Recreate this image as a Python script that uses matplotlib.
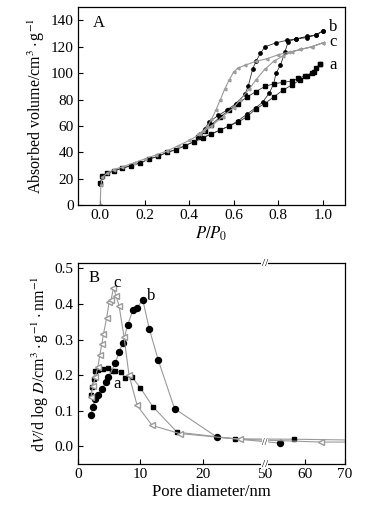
import numpy as np
import matplotlib
matplotlib.use("Agg")
import matplotlib.pyplot as plt

plt.rcParams["font.family"] = "serif"
plt.rcParams["font.serif"] = ["Liberation Serif", "DejaVu Serif"]
plt.rcParams["mathtext.fontset"] = "stix"

# ---- panel A: N2 isotherms (adsorption then desorption) ----
a_ads_p = [0.0, 0.01, 0.03, 0.06, 0.1, 0.14, 0.18, 0.22, 0.26, 0.3, 0.34, 0.38, 0.42, 0.46,
           0.5, 0.54, 0.58, 0.62, 0.66, 0.7, 0.74, 0.78, 0.82, 0.86, 0.9, 0.93, 0.96, 0.99]
a_ads_v = [17, 22, 24, 26, 28, 30, 32, 35, 37, 40, 42, 45, 48, 51,
           54, 57, 60, 63, 67, 73, 77, 82, 87, 91, 95, 98, 101, 107]
a_des_p = [0.99, 0.97, 0.95, 0.92, 0.89, 0.86, 0.82, 0.78, 0.74, 0.7, 0.66, 0.62, 0.58, 0.54, 0.5, 0.47, 0.44]
a_des_v = [107, 104, 100, 98, 96, 94, 93, 92, 90, 86, 82, 77, 72, 67, 61, 56, 52]

b_ads_p = [0.0, 0.01, 0.03, 0.06, 0.1, 0.14, 0.18, 0.22, 0.26, 0.3, 0.34, 0.38, 0.42, 0.46,
           0.5, 0.54, 0.58, 0.62, 0.66, 0.7, 0.73, 0.76, 0.78, 0.79, 0.81, 0.83, 0.845, 0.88, 0.93, 0.97, 1.0]
b_ads_v = [16, 21, 24, 26, 28, 30, 32, 35, 37, 40, 42, 45, 48, 51,
           54, 57, 60, 64, 69, 74, 78, 85, 92, 100, 106, 116, 124, 126, 127, 129, 132]
b_des_p = [1.0, 0.97, 0.93, 0.88, 0.84, 0.79, 0.74, 0.72, 0.7, 0.685, 0.665, 0.65, 0.61, 0.57, 0.53, 0.49, 0.47, 0.45]
b_des_v = [132, 129, 128, 126, 125, 123, 120, 115, 109, 103, 90, 84, 77, 72, 68, 63, 58, 54]

c_ads_p = [0.0, 0.003, 0.01, 0.03, 0.06, 0.1, 0.15, 0.2, 0.25, 0.3, 0.35, 0.4, 0.45, 0.5,
           0.55, 0.6, 0.63, 0.67, 0.7, 0.74, 0.78, 0.82, 0.86, 0.9, 0.95, 1.0]
c_ads_v = [0, 15, 21, 24, 27, 29, 32, 35, 38, 41, 45, 49, 54, 60,
           67, 74, 80, 88, 95, 103, 109, 113, 116, 118, 120, 123]
c_des_p = [1.0, 0.95, 0.9, 0.85, 0.8, 0.75, 0.7, 0.65, 0.62, 0.6, 0.58, 0.56, 0.54, 0.52, 0.5, 0.48, 0.46, 0.44]
c_des_v = [123, 120, 118, 116, 114, 111, 109, 106, 104, 101, 95, 88, 80, 72, 65, 59, 56, 54]

# ---- panel B: pore size distributions ----
a_d = [2.1, 2.25, 2.5, 2.78, 3.2, 3.96, 4.76, 5.46, 5.9, 6.9, 7.6, 8.67, 10.0, 12.0, 15.9, 25.2, 57.3, 70]
a_dv = [0.143, 0.167, 0.19, 0.213, 0.214, 0.218, 0.221, 0.213, 0.212, 0.209, 0.193, 0.195,
        0.165, 0.112, 0.040, 0.021, 0.020, 0.018]
b_d = [2.1, 2.35, 2.8, 3.2, 3.85, 4.5, 4.9, 6.0, 6.6, 7.2, 8.0, 8.8, 9.5, 10.4, 11.45, 12.9, 15.5, 22.3, 53.8]
b_dv = [0.087, 0.11, 0.134, 0.143, 0.162, 0.18, 0.195, 0.234, 0.265, 0.29, 0.342, 0.382,
        0.39, 0.412, 0.33, 0.242, 0.106, 0.026, 0.009]
c_d = [2.1, 2.4, 2.8, 3.2, 3.5, 3.85, 4.1, 4.6, 5.0, 5.3, 5.7, 6.1, 6.6, 7.4, 8.2, 9.5,
       11.9, 16.3, 26.0, 64.0, 70]
c_dv = [0.14, 0.17, 0.195, 0.223, 0.256, 0.289, 0.316, 0.36, 0.405, 0.41, 0.445, 0.424,
        0.395, 0.307, 0.20, 0.115, 0.059, 0.036, 0.020, 0.012, 0.012]

# broken x axis for panel B: 0-30 then 50-70 at a compressed scale
GAP = 0.001
K = 0.642


def fwd(x):
    x = np.asarray(x, dtype=float)
    return np.where(x <= 30, x,
                    np.where(x >= 50, 30 + GAP + (x - 50) * K, 30 + (x - 30) * GAP / 20))


def inv(y):
    y = np.asarray(y, dtype=float)
    return np.where(y <= 30, y,
                    np.where(y >= 30 + GAP, 50 + (y - 30 - GAP) / K, 30 + (y - 30) * 20 / GAP))


def style_ax(ax):
    ax.tick_params(direction="in", length=3.5, width=0.8, labelsize=11, top=False, right=False, pad=3)
    for sp in ax.spines.values():
        sp.set_linewidth(0.9)


fig = plt.figure(figsize=(3.82, 5.18), dpi=100)
axA = fig.add_axes([0.204, 0.604, 0.699, 0.382])
axB = fig.add_axes([0.204, 0.104, 0.699, 0.388])

dark = "#333333"
grey = "#9a9a9a"
axA.plot(a_ads_p + a_des_p, a_ads_v + a_des_v, "-s", color=dark, lw=0.6, ms=2.2, mfc="black", mec="black")
axA.plot(b_ads_p + b_des_p, b_ads_v + b_des_v, "-o", color=dark, lw=0.6, ms=2.4, mfc="black", mec="black")
axA.plot(c_ads_p + c_des_p, c_ads_v + c_des_v, "-<", color=grey, lw=0.8, ms=2, mfc="white", mec=grey)
axA.set_xlim(-0.1, 1.1)
axA.set_ylim(0, 150)
axA.set_xticks(np.arange(0, 1.01, 0.2))
axA.set_xticklabels([f"{t:.1f}" for t in np.arange(0, 1.01, 0.2)])
axA.set_yticks(range(0, 141, 20))
axA.set_xlabel(r"$P/P_0$", fontsize=12, labelpad=2)
axA.set_ylabel(r"Absorbed volume/cm$^3\cdot$g$^{-1}$", fontsize=11.5, labelpad=3)
axA.text(0.055, 0.92, "A", transform=axA.transAxes, fontsize=12, ha="left", va="center")
axA.text(1.03, 135, "b", fontsize=12, ha="left", va="center")
axA.text(1.03, 124, "c", fontsize=12, ha="left", va="center")
axA.text(1.03, 106, "a", fontsize=12, ha="left", va="center")
style_ax(axA)

axB.set_xscale("function", functions=(fwd, inv))
axB.plot(a_d, a_dv, "-s", color=grey, lw=0.8, ms=3.3, mfc="black", mec="black", markevery=slice(0, -1))
axB.plot(b_d, b_dv, "-o", color=grey, lw=0.8, ms=4.3, mfc="black", mec="black")
axB.plot(c_d, c_dv, "-<", color=grey, lw=0.8, ms=4.5, mfc="white", mec=grey, markevery=slice(0, -1))
axB.set_xlim(0, 70)
axB.set_ylim(-0.05, 0.515)
axB.set_xticks([0, 10, 20, 50, 60, 70])
axB.set_xticklabels(["0", "10", "20", "50", "60", "70"])
axB.minorticks_off()
axB.set_yticks(np.arange(0, 0.51, 0.1))
axB.set_yticklabels([f"{t:.1f}" for t in np.arange(0, 0.51, 0.1)])
axB.set_xlabel("Pore diameter/nm", fontsize=12, labelpad=2)
axB.set_ylabel(r"d$V$/d log $D$/cm$^3\cdot$g$^{-1}\cdot$nm$^{-1}$", fontsize=11.5, labelpad=3)
axB.text(0.04, 0.925, "B", transform=axB.transAxes, fontsize=12, ha="left", va="center")
axB.text(6.2, 0.458, "c", fontsize=12, ha="center", va="center")
axB.text(11.8, 0.424, "b", fontsize=12, ha="center", va="center")
axB.text(6.3, 0.174, "a", fontsize=12, ha="center", va="center")
for yb in (0.0, 1.0):
    axB.text(0.70, yb, "//", transform=axB.transAxes, fontsize=8, ha="center", va="center",
             bbox=dict(fc="white", ec="none", pad=0.3), zorder=5, clip_on=False)
axB.text(0.70, 0.107, "//", transform=axB.transAxes, fontsize=7, ha="center", va="center",
         bbox=dict(fc="white", ec="none", pad=0.1), zorder=5)
style_ax(axB)

fig.savefig("out.png", dpi=100)
